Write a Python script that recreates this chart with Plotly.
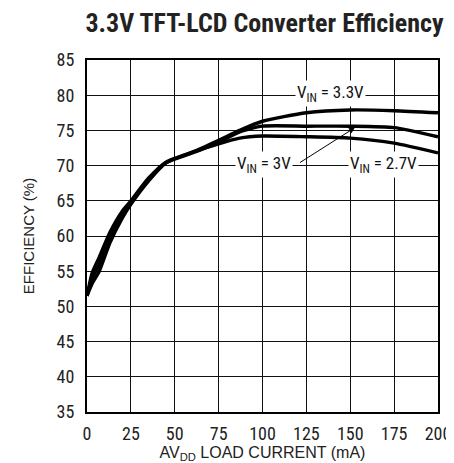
import plotly.graph_objects as go

load_ma = [0, 3, 7, 13, 20, 25, 35, 45, 60, 75, 87, 100, 125, 150, 175, 200]
eff_33 = [51.5, 53.3, 55.0, 59.0, 62.5, 64.5, 67.8, 70.4, 71.9, 73.6, 75.0, 76.3, 77.5, 77.9, 77.8, 77.5]
eff_30 = [51.5, 54.0, 56.0, 59.7, 63.0, 64.8, 68.0, 70.4, 71.8, 73.3, 74.8, 75.6, 75.6, 75.6, 75.4, 74.1]
eff_27 = [51.5, 54.8, 57.0, 60.5, 63.5, 65.0, 68.2, 70.5, 71.9, 73.1, 73.9, 74.2, 74.1, 73.9, 73.2, 71.8]

x_ticks = [0, 25, 50, 75, 100, 125, 150, 175, 200]
y_ticks = [35, 40, 45, 50, 55, 60, 65, 70, 75, 80, 85]

FONT = "Roboto Condensed, Liberation Sans Narrow, Arial Narrow, sans-serif"
FONT_AX = "Liberation Sans, Arial, sans-serif"

fig = go.Figure()
for ys in (eff_33, eff_30, eff_27):
    fig.add_trace(go.Scatter(x=load_ma, y=ys, mode="lines",
                             line=dict(color="black", width=3.4, shape="spline", smoothing=0.6),
                             showlegend=False, hoverinfo="skip"))

lab = dict(font=dict(family=FONT, size=17, color="#111"), bgcolor="white", showarrow=False,
           borderpad=1)
fig.add_annotation(x=139, y=80.3, text="V<sub>IN</sub> = 3.3V", **lab)
fig.add_annotation(x=101, y=70.1, text="V<sub>IN</sub> = 3V", **lab)
fig.add_annotation(x=169, y=70.1, text="V<sub>IN</sub> = 2.7V", **lab)
fig.add_annotation(x=152.7, y=75.4, ax=120.5, ay=70.3, axref="x", ayref="y",
                   showarrow=True, arrowhead=2, arrowsize=1.2, arrowwidth=1, arrowcolor="black", text="")

# page body has an 8px default margin, so the figure is sized/offset to compensate
fig.update_layout(
    width=446, height=455,
    margin=dict(l=79, r=16, t=52, b=51, autoexpand=False),
    paper_bgcolor="white", plot_bgcolor="white",
    title=dict(text="<b>3.3V TFT-LCD Converter Efficiency</b>", x=0.575, xanchor="center",
               y=0.968, yanchor="middle",
               font=dict(family=FONT, size=26, color="#222")),
    font=dict(family=FONT, size=18, color="#222"),
)
fig.update_xaxes(range=[0, 200], tickvals=x_ticks, showgrid=True, gridcolor="#111", gridwidth=1.4,
                 showline=True, linecolor="black", linewidth=2, mirror=True, zeroline=False,
                 ticks="", ticklabelstandoff=4, automargin=False,
                 title=dict(text="AV<sub>DD</sub> LOAD CURRENT (mA)", standoff=7,
                            font=dict(family=FONT_AX, size=16, color="#222")))
fig.update_yaxes(range=[35, 85], tickvals=y_ticks, showgrid=True, gridcolor="#111", gridwidth=1.4,
                 showline=True, linecolor="black", linewidth=2, mirror=True, zeroline=False,
                 ticks="", ticklabelstandoff=7, automargin=False,
                 title=dict(text="EFFICIENCY (%)", standoff=18,
                            font=dict(family=FONT_AX, size=15, color="#222")))

fig.write_html("out.html")
